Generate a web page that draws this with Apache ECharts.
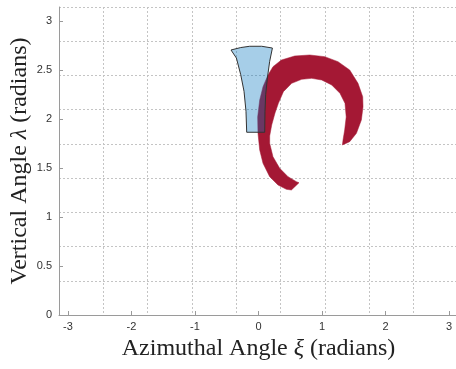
<!DOCTYPE html>
<html>
<head>
<meta charset="utf-8">
<script src="https://cdn.jsdelivr.net/npm/echarts@6/dist/echarts.min.js"></script>
<style>
  html, body { margin: 0; padding: 0; background: #fff; }
  #chart { width: 456px; height: 369px; }
</style>
</head>
<body>
<div id="chart"></div>
<script>
// Tick labels on the two angle axes
var xTicks = [-3, -2, -1, 0, 1, 2, 3];
var yTicks = [0, 0.5, 1, 1.5, 2, 2.5, 3];

// Field-of-view region (azimuth xi, vertical angle lambda), traced as a closed outline
var fovXi = [-0.433, -0.280, -0.139, 0.050, 0.219, 0.176, 0.140, 0.113, 0.102, 0.098,
             -0.186, -0.197, -0.228, -0.280, -0.348];
var fovLambda = [2.703, 2.728, 2.741, 2.741, 2.723, 2.588, 2.417, 2.247, 2.078, 1.864,
                 1.864, 2.078, 2.282, 2.451, 2.621];

// Swept trajectory band: outer edge followed by inner edge, closed outline
var bandXi = [0.638, 0.518, 0.439, 0.307, 0.176, 0.071, 0.019, -0.008, -0.013, 0.019,
              0.071, 0.150, 0.228, 0.361, 0.570, 0.806, 1.043, 1.252, 1.436, 1.567,
              1.641, 1.646, 1.620, 1.542, 1.436, 1.321,
              1.331, 1.357, 1.381, 1.362, 1.283, 1.153, 0.995, 0.838, 0.680, 0.523,
              0.392, 0.313, 0.260, 0.208, 0.176, 0.176, 0.228, 0.334, 0.465, 0.597];
var bandLambda = [1.349, 1.275, 1.282, 1.326, 1.411, 1.547, 1.683, 1.853, 2.020, 2.193,
                  2.329, 2.448, 2.533, 2.601, 2.642, 2.652, 2.635, 2.584, 2.499, 2.363,
                  2.227, 2.125, 1.989, 1.853, 1.768, 1.734,
                  1.785, 1.887, 2.020, 2.159, 2.261, 2.346, 2.397, 2.414, 2.404, 2.363,
                  2.278, 2.159, 2.060, 1.938, 1.826, 1.751, 1.615, 1.496, 1.411, 1.360];

function zip(a, b) {
  return a.map(function (v, i) { return [v, b[i]]; });
}

var fovData = zip(fovXi, fovLambda);
var bandData = zip(bandXi, bandLambda);

// Draws the whole data list of a series as one filled polygon
function makePolygonSeries(data, style, z) {
  return {
    type: 'custom',
    xAxisIndex: 0,
    yAxisIndex: 0,
    data: data,
    z: z,
    silent: true,
    renderItem: function (params, api) {
      if (params.dataIndex !== 0) return null;
      var pts = data.map(function (p) { return api.coord(p); });
      return {
        type: 'polygon',
        shape: { points: pts },
        style: style
      };
    }
  };
}

var PI = Math.PI;
var axisGrey = '#9a9a9a';
var gridStyle = { color: '#c4c4c4', width: 1, type: [2, 2] };
var serif = 'Liberation Serif, Times New Roman, serif';
var titleSize = 24;

var chart = echarts.init(document.getElementById('chart'), null, { renderer: 'canvas' });

chart.setOption({
  animation: false,
  backgroundColor: '#ffffff',
  grid: {
    left: 59,
    top: 7,
    width: 399,
    height: 308,
    containLabel: false,
    outerBoundsMode: 'none'
  },
  xAxis: [
    {
      type: 'value',
      min: -PI,
      max: PI,
      position: 'bottom',
      axisLine: { show: true, onZero: false, lineStyle: { color: axisGrey, width: 1 } },
      axisTick: { show: true, inside: true, length: 4, customValues: xTicks, lineStyle: { color: axisGrey } },
      axisLabel: {
        customValues: xTicks,
        color: '#333',
        fontFamily: 'Liberation Sans, Arial, sans-serif',
        fontSize: 11,
        margin: 6
      },
      splitLine: { show: false },
      name: 'Azimuthal Angle {i|ξ} (radians)',
      nameLocation: 'middle',
      nameGap: 15,
      nameTextStyle: {
        fontFamily: serif,
        fontSize: titleSize,
        color: '#222',
        rich: {
          i: { fontFamily: serif, fontSize: titleSize, fontStyle: 'italic', color: '#222' }
        }
      }
    },
    {
      // grid lines every 2π/9, in units of that step
      type: 'value',
      min: 0,
      max: 9,
      interval: 1,
      position: 'top',
      axisLine: { show: false },
      axisTick: { show: false },
      axisLabel: { show: false },
      splitLine: { show: true, lineStyle: gridStyle }
    }
  ],
  yAxis: [
    {
      type: 'value',
      min: 0,
      max: PI,
      position: 'left',
      axisLine: { show: true, onZero: false, lineStyle: { color: axisGrey, width: 1 } },
      axisTick: { show: true, inside: true, length: 4, customValues: yTicks, lineStyle: { color: axisGrey } },
      axisLabel: {
        customValues: yTicks,
        color: '#333',
        fontFamily: 'Liberation Sans, Arial, sans-serif',
        fontSize: 11,
        margin: 7
      },
      splitLine: { show: false },
      name: 'Vertical Angle {i|λ} (radians)',
      nameLocation: 'middle',
      nameGap: 27,
      nameMoveOverlap: false,
      nameRotate: 90,
      nameTextStyle: {
        fontFamily: serif,
        fontSize: titleSize,
        color: '#222',
        rich: {
          i: { fontFamily: serif, fontSize: titleSize, fontStyle: 'italic', color: '#222' }
        }
      }
    },
    {
      // grid lines every π/9, in units of that step
      type: 'value',
      min: 0,
      max: 9,
      interval: 1,
      position: 'right',
      axisLine: { show: false },
      axisTick: { show: false },
      axisLabel: { show: false },
      splitLine: { show: true, lineStyle: gridStyle }
    }
  ],
  series: [
    makePolygonSeries(bandData, {
      fill: 'rgb(164,24,52)',
      stroke: 'rgb(164,24,52)',
      lineWidth: 0.5
    }, 2),
    makePolygonSeries(fovData, {
      fill: 'rgba(0,114,189,0.35)',
      stroke: '#333333',
      lineWidth: 1
    }, 3)
  ]
});
</script>
</body>
</html>
